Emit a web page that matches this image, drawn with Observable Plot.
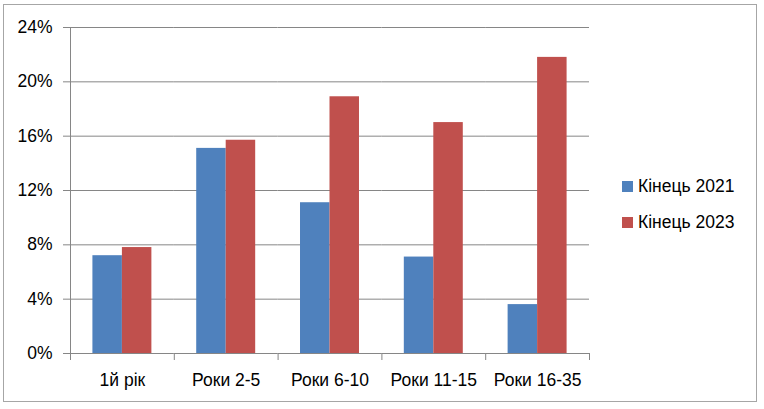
<!DOCTYPE html>
<html>
<head>
<meta charset="utf-8">
<script src="https://cdn.jsdelivr.net/npm/d3@7"></script>
<script src="https://cdn.jsdelivr.net/npm/@observablehq/plot@0.6"></script>
<style>
  html, body { margin: 0; padding: 0; background: #fff; }
  #wrap { position: relative; width: 764px; height: 409px; font-family: "Liberation Sans", Arial, sans-serif; }
  #border { position: absolute; left: 3px; top: 4px; width: 752px; height: 396px; border: 1px solid #a6a6a6; pointer-events: none; }
  #legend { position: absolute; left: 622px; top: 176px; font-size: 17.5px; color: #000; }
  .item { display: flex; align-items: center; height: 20px; margin-bottom: 16.5px; }
  .sw { width: 11px; height: 11px; margin-right: 5px; }
</style>
</head>
<body>
<div id="wrap"><div id="border"></div><div id="legend"></div></div>
<script>
const categories = ["1й рік", "Роки 2-5", "Роки 6-10", "Роки 11-15", "Роки 16-35"];
const series = ["Кінець 2021", "Кінець 2023"];
const values2021 = [0.072, 0.151, 0.111, 0.071, 0.036];
const values2023 = [0.078, 0.157, 0.189, 0.170, 0.218];
const colors = ["#4F81BD", "#C0504D"];
const yTicks = [0, 0.04, 0.08, 0.12, 0.16, 0.20, 0.24];

const data = [];
categories.forEach((c, i) => {
  data.push({category: c, series: series[0], value: values2021[i]});
  data.push({category: c, series: series[1], value: values2023[i]});
});

const width = 764, height = 409;
const marginTop = 27, marginBottom = 56, marginLeft = 70, marginRight = 175;
const plotH = height - marginTop - marginBottom;
const gray = "#868686";

const chart = Plot.plot({
  width, height, marginTop, marginBottom, marginLeft, marginRight,
  style: {fontFamily: "'Liberation Sans', Arial, sans-serif", fontSize: "17.5px", color: "#000", background: "#fff"},
  fx: {domain: categories, padding: 0, round: false, label: null},
  x: {domain: series, paddingInner: 0, paddingOuter: 0.76, round: false, axis: null},
  y: {domain: [0, 0.24], label: null},
  color: {domain: series, range: colors},
  marks: [
    Plot.gridY(yTicks, {stroke: gray, strokeOpacity: 1, strokeWidth: 1}),
    Plot.barY(data, {fx: "category", x: "series", y: "value", fill: "series"}),
    Plot.frame({anchor: "left", facetAnchor: "left", stroke: gray, insetBottom: -6}),
    Plot.frame({anchor: "left", stroke: gray, insetTop: plotH, insetBottom: -6}),
    Plot.frame({anchor: "right", facetAnchor: "right", stroke: gray, insetTop: plotH, insetBottom: -6}),
    Plot.axisY(yTicks, {tickFormat: d3.format(".0%"), tickSize: 7, tickPadding: 11, stroke: gray, fill: "#000", label: null, fontSize: 17.5}),
    Plot.axisFx({anchor: "bottom", tickSize: 0, tickPadding: 20, label: null, fontSize: 17.5, fill: "#000"})
  ]
});

document.getElementById("wrap").prepend(chart);

const legend = document.getElementById("legend");
series.forEach((s, i) => {
  const item = document.createElement("div");
  item.className = "item";
  const sw = document.createElement("div");
  sw.className = "sw";
  sw.style.background = colors[i];
  const label = document.createElement("span");
  label.textContent = s;
  item.append(sw, label);
  legend.append(item);
});
</script>
</body>
</html>
